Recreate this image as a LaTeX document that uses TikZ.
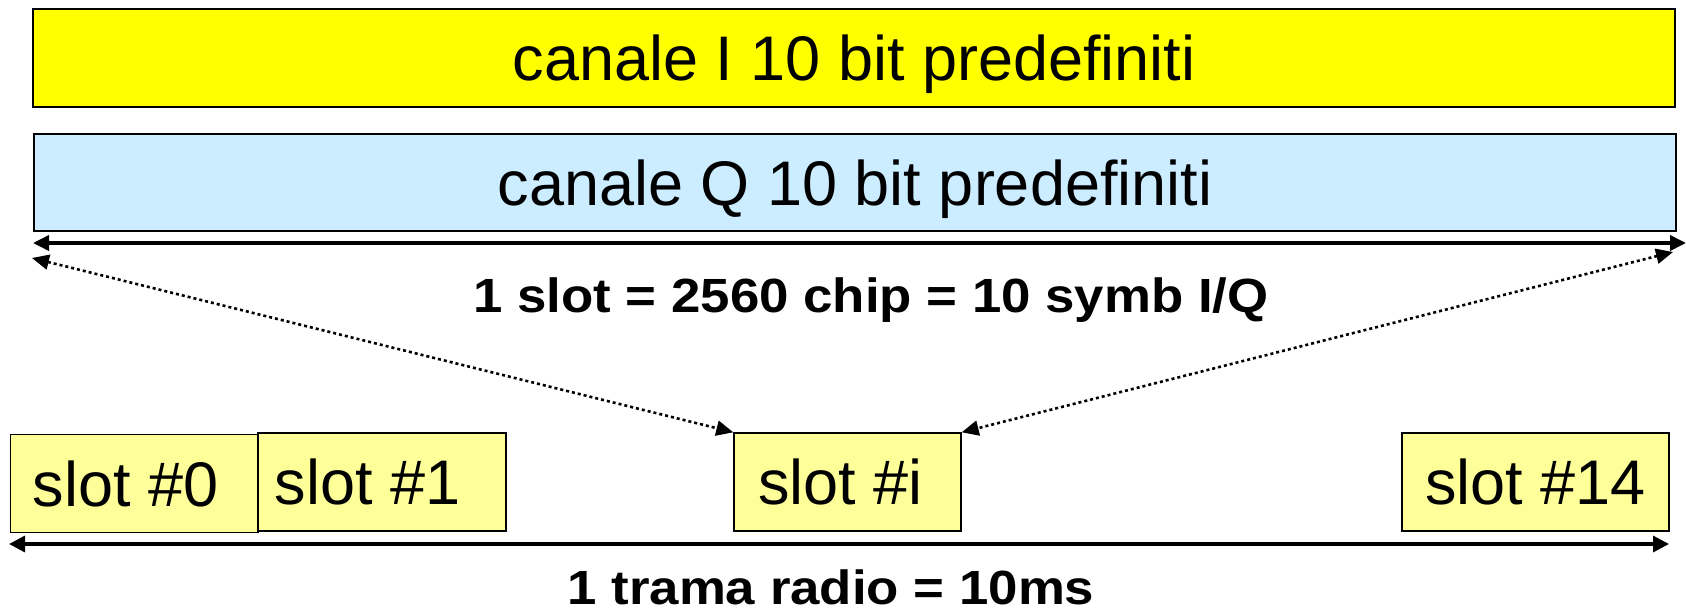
\documentclass[tikz,border=0pt]{standalone}
\usepackage{fontspec}
\setmainfont{Liberation Sans}
\usetikzlibrary{arrows.meta}
\definecolor{chanI}{HTML}{FFFF00}
\definecolor{chanQ}{HTML}{CCECFF}
\definecolor{slotfill}{HTML}{FFFF99}
\tikzset{
  barbox/.style={draw=black, line width=0.8pt, inner sep=0pt, minimum width=821pt,
    font=\fontsize{31.5}{36}\selectfont, text height=22.7pt, text depth=0pt},
  slotbox/.style={draw=black, line width=0.7pt, fill=slotfill, inner sep=0pt, minimum height=49pt,
    font=\fontsize{31.5}{36}\selectfont, text height=22.7pt, text depth=0pt},
  boldlabel/.style={inner sep=0pt, anchor=base, font=\fontsize{24}{28}\selectfont\bfseries},
  spanarrow/.style={line width=1.8pt, {Triangle[length=8pt,width=7.5pt]}-{Triangle[length=8pt,width=7.5pt]}},
  framearrow/.style={line width=1.6pt, {Triangle[length=8pt,width=8pt]}-{Triangle[length=8pt,width=8pt]}},
  dotarrow/.style={line width=1.3pt, dash pattern=on 1.5pt off 1.5pt, {Triangle[length=8.5pt,width=7.5pt]}-{Triangle[length=8.5pt,width=7.5pt]}}
}
\begin{document}
\begin{tikzpicture}[x=0.5pt,y=-0.5pt]
\useasboundingbox (0,0) rectangle (1686,611);
% channel bars
\node[barbox, fill=chanI, minimum height=49pt] (chI) at (854,58) {canale I 10 bit predefiniti};
\node[barbox, fill=chanQ, minimum height=48.5pt] (chQ) at (855,182.5) {canale Q 10 bit predefiniti};
% slot span arrow
\coordinate (tl) at (33,243);
\coordinate (tr) at (1686,243);
\draw[spanarrow] (tl) -- (tr);
\node[boldlabel] (slotlbl) at (871,312) {\scalebox{1.1}[1]{1 slot = 2560 chip = 10 symb I/Q}};
% slots
\node[slotbox, minimum width=123.75pt] (s0) at (134.5,483.5) {slot \#0\kern9pt};
\node[slotbox, minimum width=124pt] (s1) at (382,482) {slot \#1\kern14.5pt};
\node[slotbox, minimum width=113.5pt] (si) at (847.5,482) {slot \#i\kern7pt};
\node[slotbox, minimum width=133.5pt] (s14) at (1535.5,482) {slot \#14};
% dotted arrows
\coordinate (dl) at (32,258);
\coordinate (dr) at (1673,252);
\draw[dotarrow] (dl) -- (si.north west);
\draw[dotarrow] (dr) -- (si.north east);
% frame arrow
\coordinate (bl) at (9,544);
\coordinate (br) at (1669,544);
\draw[framearrow] (bl) -- (br);
\node[boldlabel] (framelbl) at (831,604) {\scalebox{1.1}[1]{1 trama radio = 10ms}};
\end{tikzpicture}
\end{document}
